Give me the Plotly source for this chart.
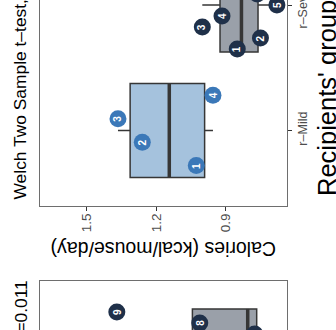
import numpy as np
import plotly.graph_objects as go

# ---------------- data ----------------
categories = ["r–Mild", "r–Severe"]
mild_values = [1.027, 1.260, 1.365, 0.955]                       # points 1..4
severe_values = [0.850, 0.750, 1.001, 0.916, 0.679, 0.764, 0.800, 0.832, 0.950]  # points 1..9
value_ticks = [0.9, 1.2, 1.5]
value_ticktext = ["0.9", "1.2", "1.5"]

# second (neighbouring) panel, only partly visible
lower_category = "d–Severe"
lower_values = [0.700, 0.740, 0.790, 0.805, 1.100, 1.025, 0.775, 1.012, 1.370]

title_line1 = "Mean daily intake"
title_upper = "Welch Two Sample t–test, p=0.003"
title_lower = "Welch Two Sample t–test, p=0.011"
value_title = "Calories (kcal/mouse/day)"
group_title = "Recipients' group"

# ---------------- styling ----------------
FONT = "Liberation Sans, Arial, sans-serif"
W, H = 336, 330
L, R = 40, 49
MILD_FILL, MILD_PT = "#a5c2dd", "#3b78b8"
SEV_FILL, SEV_PT = "#9aa0a9", "#1f3049"
LINE = "#363636"
BORDER = "#6e6e6e"
BOX_W = 0.75
SPREAD = {"mild": 0.28, "severe": 0.35}
TITLE_SIZE = 17.4

def px_x(px):  # figure pixel -> paper x
    return (px - L) / (W - L - R)

def px_y(py):
    return 1 - py / H

fig = go.Figure()
annotations = []

def add_group(values, cat, fill, ptc, spread, xa, ya):
    n = len(values)
    fig.add_trace(go.Box(
        x=values, y=[cat] * n, orientation="h", width=BOX_W,
        boxpoints=False, whiskerwidth=0, quartilemethod="linear",
        fillcolor=fill, line=dict(color=LINE, width=1.5),
        xaxis=xa, yaxis=ya, hoverinfo="skip"))
    med = float(np.median(values))
    fig.add_trace(go.Scatter(
        x=[med, med], y=[cat - BOX_W / 2, cat + BOX_W / 2], mode="lines",
        line=dict(color=LINE, width=3.5), xaxis=xa, yaxis=ya, hoverinfo="skip"))
    offs = np.linspace(-spread, spread, n)
    ys = [cat + o for o in offs]
    fig.add_trace(go.Scatter(
        x=values, y=ys, mode="markers",
        marker=dict(size=17, color=ptc, line=dict(width=0)),
        xaxis=xa, yaxis=ya, hoverinfo="skip"))
    for i, (v, yy) in enumerate(zip(values, ys)):
        annotations.append(dict(
            x=v, y=yy, xref=xa, yref=ya, text=str(i + 1), showarrow=False,
            textangle=-90, font=dict(family=FONT, size=10, color="white", weight=700)))

add_group(mild_values, 1, MILD_FILL, MILD_PT, SPREAD["mild"], "x", "y")
add_group(severe_values, 2, SEV_FILL, SEV_PT, SPREAD["severe"], "x", "y")
add_group(lower_values, 2, SEV_FILL, SEV_PT, SPREAD["severe"], "x2", "y2")

# text annotations (the whole chart is shown rotated)
annotations += [
    dict(x=px_x(-10), y=px_y(202), xref="paper", yref="paper", text=title_line1,
         textangle=-90, xanchor="center", yanchor="bottom", showarrow=False,
         font=dict(family=FONT, size=TITLE_SIZE, color="black")),
    dict(x=px_x(20), y=px_y(202), xref="paper", yref="paper", text=title_upper,
         textangle=-90, xanchor="center", yanchor="bottom", showarrow=False,
         font=dict(family=FONT, size=TITLE_SIZE, color="black")),
    dict(x=px_x(20), y=px_y(279), xref="paper", yref="paper", text=title_lower,
         textangle=-90, xanchor="center", yanchor="top", showarrow=False,
         font=dict(family=FONT, size=TITLE_SIZE, color="black")),
    dict(x=px_x(163.5), y=px_y(249), xref="paper", yref="paper", text=value_title,
         textangle=180, xanchor="center", yanchor="middle", showarrow=False,
         font=dict(family=FONT, size=19.5, color="black")),
    dict(x=px_x(327), y=px_y(198), xref="paper", yref="paper", text=group_title,
         textangle=-90, xanchor="center", yanchor="bottom", showarrow=False,
         font=dict(family=FONT, size=25.5, color="black")),
    dict(x=px_x(301), y=px_y(356), xref="paper", yref="paper", text=lower_category,
         textangle=-90, xanchor="center", yanchor="middle", showarrow=False,
         font=dict(family=FONT, size=12.5, color="#4d4d4d")),
]

xrange = [1.7016, 0.6354]
common_x = dict(range=xrange, showgrid=False, zeroline=False, showline=True,
                linecolor=BORDER, linewidth=1, automargin=False)
fig.update_layout(
    width=W, height=H, margin=dict(l=L, r=R, t=0, b=0, autoexpand=False),
    plot_bgcolor="white", paper_bgcolor="white", showlegend=False,
    xaxis=dict(**common_x, anchor="y", tickvals=value_ticks, ticktext=value_ticktext,
               ticks="outside", ticklen=4, tickcolor="#333333", tickangle=-90,
               ticklabelstandoff=-3,
               tickfont=dict(family=FONT, size=13.5, color="#4d4d4d")),
    yaxis=dict(domain=[1 - 206 / H, 1], range=[0.398, 2.04], side="right",
               tickvals=[1, 2], ticktext=categories, tickangle=-90,
               ticks="outside", ticklen=4, tickcolor="#333333",
               ticklabeloverflow="allow", automargin=False,
               tickfont=dict(family=FONT, size=12.5, color="#4d4d4d"),
               showgrid=False, zeroline=False, showline=True, mirror=True,
               linecolor=BORDER, linewidth=1, anchor="x"),
    xaxis2=dict(**common_x, anchor="y2", side="top", showticklabels=False, ticks=""),
    yaxis2=dict(domain=[0, 49 / H], range=[2.207, 2.598], side="right",
                showticklabels=False, ticks="", showgrid=False, zeroline=False,
                automargin=False,
                showline=True, mirror=True, linecolor=BORDER, linewidth=1, anchor="x2"),
    annotations=annotations,
)

fig.write_html("out.html", config={"displayModeBar": False},
               post_script="document.body.style.margin='0px';")
